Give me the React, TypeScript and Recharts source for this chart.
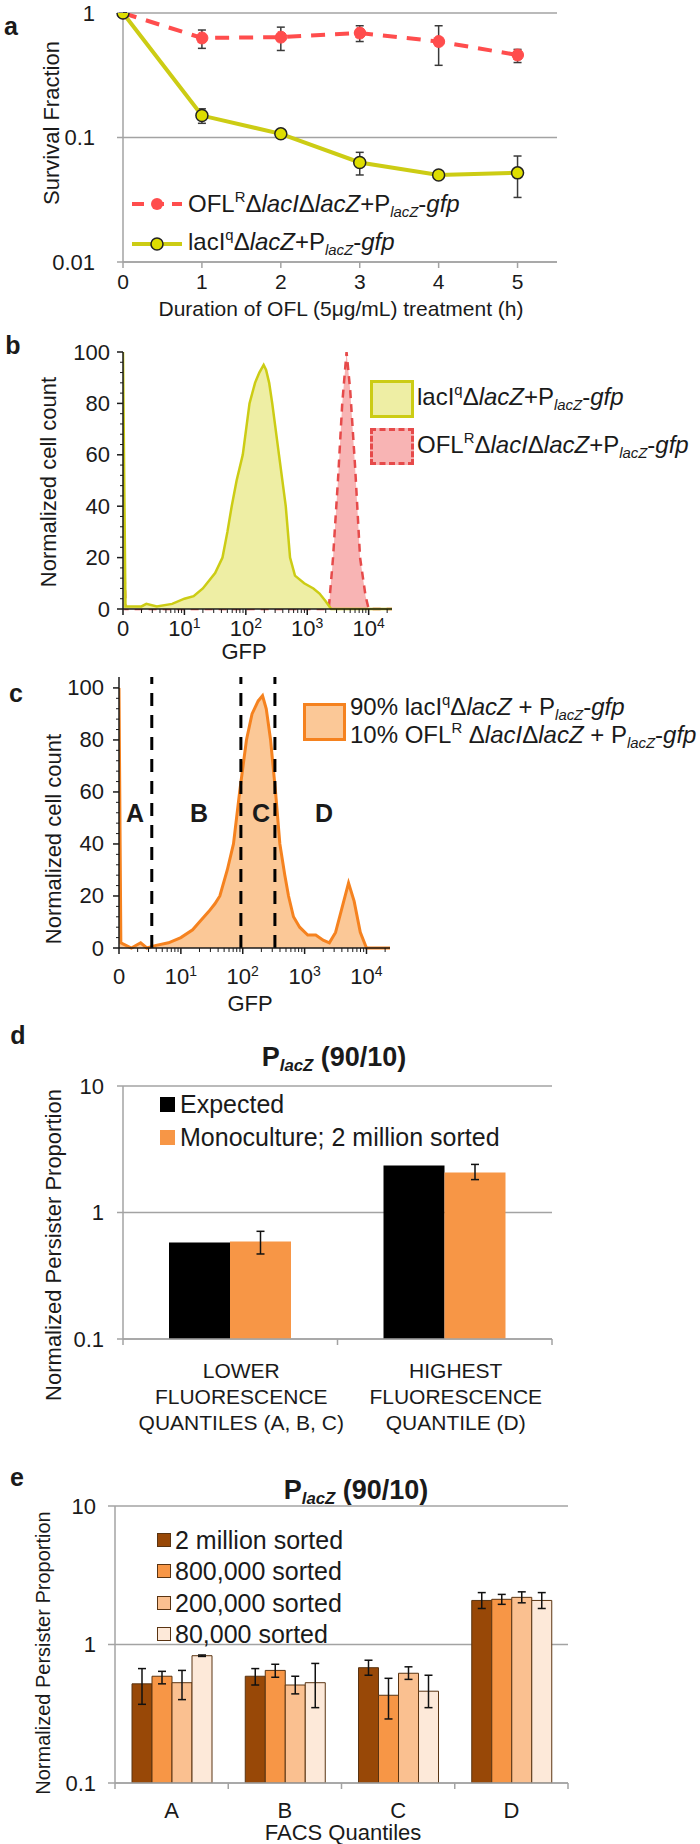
import React from 'react';
import {
  ComposedChart, BarChart, Line, Area, Bar, XAxis, YAxis, CartesianGrid, ErrorBar, ReferenceLine,
} from 'recharts';

// a: survival fraction vs hours of ofloxacin
const HOURS = [0, 1, 2, 3, 4, 5];
const OFLR_SURVIVAL = [1, 0.63, 0.64, 0.69, 0.59, 0.46];
const OFLR_LOW = [1, 0.52, 0.5, 0.59, 0.38, 0.4];
const OFLR_HIGH = [1, 0.73, 0.77, 0.79, 0.79, 0.51];
const LACIQ_SURVIVAL = [1, 0.15, 0.107, 0.063, 0.05, 0.052];
const LACIQ_LOW = [1, 0.13, 0.107, 0.05, 0.05, 0.033];
const LACIQ_HIGH = [1, 0.17, 0.107, 0.076, 0.05, 0.071];
const SURVIVAL_TICKS = [0.01, 0.1, 1];

// b, c: GFP histograms, x in decades (0, 10^1, 10^2 ...)
const GFP_TICKS = [0, 1, 2, 3, 4];
const GFP_TICK_BASE = ['0', '10', '10', '10', '10'];
const GFP_TICK_EXP = ['', '1', '2', '3', '4'];
const GFP_MINOR_MULT = [2, 3, 4, 5, 6, 7, 8, 9];
const COUNT_TICKS = [0, 20, 40, 60, 80, 100];
const COUNT_MINOR_STEP = 4;

const LACIQ_GFP_X = [0, 0.04, 0.3, 0.38, 0.55, 0.8, 1.0, 1.15, 1.3, 1.4, 1.5, 1.62, 1.7, 1.77, 1.85, 1.95, 2.06, 2.15, 2.22, 2.29, 2.33, 2.38, 2.43, 2.54, 2.65, 2.72, 2.8, 2.95, 3.1, 3.2, 3.3, 3.39, 4.38];
const LACIQ_GFP_Y = [100, 1, 1, 2, 1, 2, 4, 5, 8, 11, 14, 20, 30, 40, 50, 60, 80, 88, 92, 95, 93, 88, 80, 60, 40, 20, 13, 10, 8, 6, 3, 0, 0];
const OFLR_GFP_X = [0, 0.04, 3.35, 3.42, 3.5, 3.57, 3.64, 3.7, 3.78, 3.86, 3.95, 4.0, 4.38];
const OFLR_GFP_Y = [40, 0, 0, 20, 50, 80, 100, 85, 55, 20, 5, 0, 0];
const MIX_GFP_X = [0, 0.03, 0.2, 0.35, 0.45, 0.6, 0.8, 1.0, 1.19, 1.3, 1.45, 1.55, 1.63, 1.75, 1.85, 1.95, 2.06, 2.15, 2.25, 2.32, 2.38, 2.45, 2.53, 2.6, 2.68, 2.74, 2.82, 2.92, 3.05, 3.18, 3.3, 3.4, 3.5, 3.6, 3.71, 3.8, 3.9, 4.0, 4.38];
const MIX_GFP_Y = [100, 2, 0, 2, 0, 1, 2, 4, 7, 10, 14, 17, 20, 30, 40, 60, 80, 90, 95, 97, 92, 80, 60, 40, 28, 20, 12, 8, 5, 5, 3, 2, 6, 15, 25, 18, 6, 0, 0];
const GATES = [0.53, 1.97, 2.52];

// d: expected vs measured persister proportion
const D_CATEGORY_LINES = [
  ['LOWER', 'FLUORESCENCE', 'QUANTILES (A, B, C)'],
  ['HIGHEST', 'FLUORESCENCE', 'QUANTILE (D)'],
];
const D_EXPECTED = [0.58, 2.35];
const D_MONO = [0.59, 2.07];
const D_MONO_LOW = [0.47, 1.82];
const D_MONO_HIGH = [0.71, 2.4];
const PROPORTION_TICKS = [0.1, 1, 10];

// e: by number of sorted cells
const E_QUANTILES = ['A', 'B', 'C', 'D'];
const E_SERIES_NAMES = ['2 million sorted', '800,000 sorted', '200,000 sorted', '80,000 sorted'];
const E_2M = [0.52, 0.59, 0.68, 2.08];
const E_2M_LOW = [0.37, 0.51, 0.6, 1.82];
const E_2M_HIGH = [0.67, 0.67, 0.77, 2.37];
const E_800K = [0.59, 0.65, 0.43, 2.12];
const E_800K_LOW = [0.52, 0.58, 0.29, 1.95];
const E_800K_HIGH = [0.64, 0.72, 0.57, 2.3];
const E_200K = [0.53, 0.51, 0.62, 2.19];
const E_200K_LOW = [0.4, 0.44, 0.56, 2.0];
const E_200K_HIGH = [0.65, 0.59, 0.69, 2.4];
const E_80K = [0.83, 0.53, 0.46, 2.08];
const E_80K_LOW = [0.82, 0.35, 0.35, 1.82];
const E_80K_HIGH = [0.84, 0.73, 0.6, 2.37];

const FONT = '"Liberation Sans", Arial, Helvetica, sans-serif';
const INK = '#1a1a1a';
const GRID = '#a3a3a3';
const RED = '#ff4d4d';
const OLIVE = '#cccc14';
const E_COLORS = ['#984807', '#f79646', '#fac090', '#fde9d9'];
const tickStyle = { fill: INK, fontSize: 22 };

const err = (v: number[], lo: number[], hi: number[], i: number) => [v[i] - lo[i], hi[i] - v[i]];

const survivalRows = HOURS.map((h, i) => ({
  h,
  oflr: OFLR_SURVIVAL[i],
  oflrErr: err(OFLR_SURVIVAL, OFLR_LOW, OFLR_HIGH, i),
  laciq: LACIQ_SURVIVAL[i],
  laciqErr: err(LACIQ_SURVIVAL, LACIQ_LOW, LACIQ_HIGH, i),
}));

const toRows = (xs: number[], ys: number[]) => xs.map((x, i) => ({ x, v: ys[i] }));
const laciqGfp = toRows(LACIQ_GFP_X, LACIQ_GFP_Y);
const oflrGfp = toRows(OFLR_GFP_X, OFLR_GFP_Y);
const mixGfp = toRows(MIX_GFP_X, MIX_GFP_Y);

// axis decorations: major decades plus log minor ticks, counts every 4
const GFP_ALL_TICKS = [
  ...GFP_TICKS,
  ...GFP_TICKS.flatMap((d) => GFP_MINOR_MULT.map((m) => d + Math.log10(m))).filter((t) => t < 4.38),
];
const COUNT_ALL_TICKS = Array.from({ length: 100 / COUNT_MINOR_STEP + 1 }, (_, i) => i * COUNT_MINOR_STEP);

const dRows = D_CATEGORY_LINES.map((lines, i) => ({
  cat: lines.join(' '),
  expected: D_EXPECTED[i],
  mono: D_MONO[i],
  monoErr: err(D_MONO, D_MONO_LOW, D_MONO_HIGH, i),
}));

const E_VALUES = [E_2M, E_800K, E_200K, E_80K];
const E_LOWS = [E_2M_LOW, E_800K_LOW, E_200K_LOW, E_80K_LOW];
const E_HIGHS = [E_2M_HIGH, E_800K_HIGH, E_200K_HIGH, E_80K_HIGH];
const eRows = E_QUANTILES.map((q, i) => {
  const row: any = { q };
  E_VALUES.forEach((vals, s) => {
    row[`s${s}`] = vals[i];
    row[`s${s}Err`] = err(vals, E_LOWS[s], E_HIGHS[s], i);
  });
  return row;
});

const Sup = ({ children }: any) => (
  <span style={{ fontSize: '0.62em', verticalAlign: '0.65em', lineHeight: 0 }}>{children}</span>
);
const Sub = ({ children }: any) => (
  <span style={{ fontSize: '0.62em', verticalAlign: '-0.35em', lineHeight: 0 }}>{children}</span>
);
const OflrName = () => (
  <>OFL<Sup>R</Sup>Δ<i>lacI</i>Δ<i>lacZ</i>+P<Sub><i>lacZ</i></Sub>-<i>gfp</i></>
);
const LaciqName = () => (
  <>lacI<Sup>q</Sup>Δ<i>lacZ</i>+P<Sub><i>lacZ</i></Sub>-<i>gfp</i></>
);

const Txt = ({ x, y, size = 22, bold = false, left = false, rotate = false, children }: any) => (
  <div
    style={{
      position: 'absolute', left: x, top: y, fontSize: size, fontWeight: bold ? 700 : 400,
      whiteSpace: 'nowrap', lineHeight: 1,
      transform: `translate(${left ? '0' : '-50%'}, -50%)${rotate ? ' rotate(-90deg)' : ''}`,
    }}
  >
    {children}
  </div>
);

const Title = ({ x, y }: any) => (
  <Txt x={x} y={y} size={27} bold>
    P<Sub><i>lacZ</i></Sub> (90/10)
  </Txt>
);

const gfpTick = (labelOffset: number) => (p: any) => {
  const i = GFP_TICKS.indexOf(p.payload.value);
  return (
    <g>
      <line x1={p.x} x2={p.x} y1={p.y} y2={p.y + (i >= 0 ? 6 : 4)} stroke={INK} strokeWidth={i >= 0 ? 1.5 : 1} />
      {i >= 0 && (
        <text x={p.x} y={p.y + labelOffset} dy="0.75em" textAnchor="middle" fontSize={22} fill={INK}>
          <tspan>{GFP_TICK_BASE[i]}</tspan>
          {GFP_TICK_EXP[i] && <tspan dy={-8} fontSize={14}>{GFP_TICK_EXP[i]}</tspan>}
        </text>
      )}
    </g>
  );
};

const countTick = (labelGap: number) => (p: any) => {
  const major = COUNT_TICKS.includes(p.payload.value);
  return (
    <g>
      <line x1={p.x} x2={p.x - (major ? 6 : 3)} y1={p.y} y2={p.y} stroke={INK} strokeWidth={major ? 1.5 : 1} />
      {major && (
        <text x={p.x - labelGap} y={p.y} textAnchor="end" dominantBaseline="central" fontSize={22} fill={INK}>
          {p.payload.value}
        </text>
      )}
    </g>
  );
};

const catTick = (half: number, count: number, lines: (i: number) => string[], dx: number, y0: number, gap: number, size: number) =>
  (p: any) => (
    <g>
      <line x1={p.x - half} x2={p.x - half} y1={p.y} y2={p.y + 6} stroke={GRID} strokeWidth={1.5} />
      {p.index === count - 1 && (
        <line x1={p.x + half} x2={p.x + half} y1={p.y} y2={p.y + 6} stroke={GRID} strokeWidth={1.5} />
      )}
      {lines(p.index).map((l, k) => (
        <text key={k} x={p.x + dx} y={p.y + y0 + gap * k} textAnchor="middle" dominantBaseline="central" fontSize={size} fill={INK}>
          {l}
        </text>
      ))}
    </g>
  );

function PanelA() {
  return (
    <>
      <div style={{ position: 'absolute', left: 0, top: 0 }}>
        <ComposedChart width={700} height={320} data={survivalRows} margin={{ top: 13, right: 143, bottom: 0, left: 0 }}>
          <CartesianGrid vertical={false} stroke={GRID} strokeWidth={1.5} />
          <XAxis dataKey="h" type="number" domain={[0, 5.5]} ticks={HOURS} interval={0} height={58}
            tickSize={6} tickMargin={6} stroke={GRID} strokeWidth={1.5} tick={{ fill: INK, fontSize: 21 }} />
          <YAxis type="number" scale="log" domain={[0.01, 1]} ticks={SURVIVAL_TICKS} interval={0} allowDataOverflow
            width={123} tickSize={6} tickMargin={22} stroke={GRID} strokeWidth={1.5} tick={tickStyle} />
          <Line dataKey="oflr" stroke={RED} strokeWidth={4} strokeDasharray="14 10"
            dot={{ r: 6, fill: RED, stroke: RED, strokeWidth: 1 }} activeDot={false} isAnimationActive={false}>
            <ErrorBar dataKey="oflrErr" direction="y" width={4} stroke="#3a3a3a" strokeWidth={1.5} />
          </Line>
          <Line dataKey="laciq" stroke={OLIVE} strokeWidth={4}
            dot={{ r: 6, fill: '#dede00', stroke: '#222', strokeWidth: 1.5 }} activeDot={false} isAnimationActive={false}>
            <ErrorBar dataKey="laciqErr" direction="y" width={4} stroke="#3a3a3a" strokeWidth={1.5} />
          </Line>
        </ComposedChart>
      </div>
      <Txt x={11} y={26} size={25} bold>a</Txt>
      <Txt x={52} y={123} rotate>Survival Fraction</Txt>
      <Txt x={341} y={308} size={21}>Duration of OFL (5μg/mL) treatment (h)</Txt>
      <svg style={{ position: 'absolute', left: 132, top: 196 }} width={50} height={16}>
        <line x1={0} x2={50} y1={8} y2={8} stroke={RED} strokeWidth={4} strokeDasharray="12 8" />
        <circle cx={25} cy={8} r={6} fill={RED} />
      </svg>
      <Txt x={188} y={204} size={24} left><OflrName /></Txt>
      <svg style={{ position: 'absolute', left: 132, top: 236 }} width={50} height={16}>
        <line x1={0} x2={50} y1={8} y2={8} stroke={OLIVE} strokeWidth={4} />
        <circle cx={25} cy={8} r={6} fill="#dede00" stroke="#222" strokeWidth={1.5} />
      </svg>
      <Txt x={188} y={242} size={24} left><LaciqName /></Txt>
    </>
  );
}

function PanelB() {
  return (
    <>
      <div style={{ position: 'absolute', left: 0, top: 330 }}>
        <ComposedChart width={420} height={330} margin={{ top: 22, right: 28, bottom: 0, left: 0 }}>
          <XAxis dataKey="x" type="number" domain={[0, 4.38]} ticks={GFP_ALL_TICKS} interval={0} height={51}
            tickSize={0} tickMargin={0} tickLine={false} stroke={INK} strokeWidth={1.5} tick={gfpTick(10)} allowDataOverflow />
          <YAxis type="number" domain={[0, 100]} ticks={COUNT_ALL_TICKS} interval={0} width={123}
            tickSize={0} tickMargin={0} tickLine={false} stroke={INK} strokeWidth={1.5} tick={countTick(13)} />
          <Area data={oflrGfp} dataKey="v" type="linear" stroke="#e64a4a" strokeWidth={2.5} strokeDasharray="8 6"
            fill="#f8b4b4" fillOpacity={1} isAnimationActive={false} activeDot={false} />
          <Area data={laciqGfp} dataKey="v" type="linear" stroke={OLIVE} strokeWidth={2.5}
            fill="#eeeea4" fillOpacity={1} isAnimationActive={false} activeDot={false} />
        </ComposedChart>
      </div>
      <Txt x={13} y={345} size={25} bold>b</Txt>
      <Txt x={49} y={482} rotate>Normalized cell count</Txt>
      <Txt x={244} y={652}>GFP</Txt>
      <div style={{ position: 'absolute', left: 370, top: 380, width: 38, height: 32, background: '#eeeea4', border: `3px solid ${OLIVE}` }} />
      <Txt x={417} y={397} size={24} left><LaciqName /></Txt>
      <div style={{ position: 'absolute', left: 370, top: 428, width: 38, height: 31, background: '#f8b4b4', border: '3px dashed #e64a4a' }} />
      <Txt x={417} y={445} size={24} left><OflrName /></Txt>
    </>
  );
}

function PanelC() {
  return (
    <>
      <div style={{ position: 'absolute', left: 0, top: 660 }}>
        <ComposedChart width={420} height={340} margin={{ top: 17, right: 30, bottom: 0, left: 0 }}>
          <XAxis dataKey="x" type="number" domain={[0, 4.38]} ticks={GFP_ALL_TICKS} interval={0} height={52}
            tickSize={0} tickMargin={0} tickLine={false} stroke={INK} strokeWidth={1.5} tick={gfpTick(19)} allowDataOverflow />
          <YAxis type="number" domain={[0, 104.2]} ticks={COUNT_ALL_TICKS} interval={0} width={119}
            tickSize={0} tickMargin={0} tickLine={false} stroke={INK} strokeWidth={1.5} tick={countTick(15)} />
          <Area data={mixGfp} dataKey="v" type="linear" stroke="#f5821f" strokeWidth={3}
            fill="#fbc897" fillOpacity={1} isAnimationActive={false} activeDot={false} />
          {GATES.map((g) => (
            <ReferenceLine key={g} x={g} stroke="#000" strokeWidth={3} strokeDasharray="13 9" />
          ))}
        </ComposedChart>
      </div>
      <Txt x={16} y={693} size={25} bold>c</Txt>
      <Txt x={54} y={839} rotate>Normalized cell count</Txt>
      <Txt x={250} y={1004}>GFP</Txt>
      <Txt x={135} y={813} size={25} bold>A</Txt>
      <Txt x={199} y={813} size={25} bold>B</Txt>
      <Txt x={261} y={813} size={25} bold>C</Txt>
      <Txt x={324} y={813} size={25} bold>D</Txt>
      <div style={{ position: 'absolute', left: 303, top: 703, width: 37, height: 32, background: '#fbc897', border: '3px solid #f5821f' }} />
      <Txt x={350} y={707} size={24} left>
        90% lacI<Sup>q</Sup>Δ<i>lacZ</i> + P<Sub><i>lacZ</i></Sub>-<i>gfp</i>
      </Txt>
      <Txt x={350} y={735} size={24} left>
        10% OFL<Sup>R</Sup> Δ<i>lacI</i>Δ<i>lacZ</i> + P<Sub><i>lacZ</i></Sub>-<i>gfp</i>
      </Txt>
    </>
  );
}

function PanelD() {
  const tick = catTick(214.5 / 2, dRows.length, (i) => D_CATEGORY_LINES[i], 11, 31, 26, 21);
  return (
    <>
      <div style={{ position: 'absolute', left: 0, top: 1070 }}>
        <BarChart width={600} height={370} data={dRows} barGap={0} margin={{ top: 16, right: 48, bottom: 0, left: 0 }}>
          <CartesianGrid vertical={false} stroke={GRID} strokeWidth={1.5} />
          <XAxis dataKey="cat" interval={0} height={101} tickSize={0} tickMargin={0} tickLine={false}
            stroke={GRID} strokeWidth={1.5} tick={tick} />
          <YAxis type="number" scale="log" domain={[0.1, 10]} ticks={PROPORTION_TICKS} interval={0} allowDataOverflow
            width={123} tickSize={6} tickMargin={13} stroke={GRID} strokeWidth={1.5} tick={tickStyle} />
          <Bar dataKey="expected" fill="#000" barSize={61} isAnimationActive={false} />
          <Bar dataKey="mono" fill="#f79646" barSize={61} isAnimationActive={false}>
            <ErrorBar dataKey="monoErr" direction="y" width={4} stroke="#111" strokeWidth={1.5} />
          </Bar>
        </BarChart>
      </div>
      <Txt x={18} y={1035} size={25} bold>d</Txt>
      <Title x={334} y={1057} />
      <Txt x={54} y={1245} rotate>Normalized Persister Proportion</Txt>
      <div style={{ position: 'absolute', left: 160, top: 1097, width: 15, height: 15, background: '#000' }} />
      <Txt x={180} y={1104} size={25} left>Expected</Txt>
      <div style={{ position: 'absolute', left: 160, top: 1130, width: 15, height: 15, background: '#f79646' }} />
      <Txt x={180} y={1137} size={25} left>Monoculture; 2 million sorted</Txt>
    </>
  );
}

function PanelE() {
  const tick = catTick(453 / 8, eRows.length, (i) => [E_QUANTILES[i]], 0, 27, 0, 22);
  return (
    <>
      <div style={{ position: 'absolute', left: 0, top: 1490 }}>
        <BarChart width={620} height={354} data={eRows} barGap={0} margin={{ top: 16, right: 52, bottom: 0, left: 0 }}>
          <CartesianGrid vertical={false} stroke={GRID} strokeWidth={1.5} />
          <XAxis dataKey="q" interval={0} height={61} tickSize={0} tickMargin={0} tickLine={false}
            stroke={GRID} strokeWidth={1.5} tick={tick} />
          <YAxis type="number" scale="log" domain={[0.1, 10]} ticks={PROPORTION_TICKS} interval={0} allowDataOverflow
            width={115} tickSize={7} tickMargin={12} stroke={GRID} strokeWidth={1.5} tick={tickStyle} />
          {E_SERIES_NAMES.map((name, s) => (
            <Bar key={name} name={name} dataKey={`s${s}`} fill={E_COLORS[s]} stroke="#5a3412" strokeWidth={1}
              barSize={20} isAnimationActive={false}>
              <ErrorBar dataKey={`s${s}Err`} direction="y" width={4} stroke="#111" strokeWidth={1.5} />
            </Bar>
          ))}
        </BarChart>
      </div>
      <Txt x={17} y={1477} size={25} bold>e</Txt>
      <Title x={356} y={1490} />
      <Txt x={43} y={1653} size={20} rotate>Normalized Persister Proportion</Txt>
      <Txt x={343} y={1833}>FACS Quantiles</Txt>
      {E_SERIES_NAMES.map((name, s) => (
        <React.Fragment key={name}>
          <div style={{ position: 'absolute', left: 157, top: 1533 + s * 31.3, width: 12, height: 12, background: E_COLORS[s], border: '1px solid #5a3412' }} />
          <Txt x={175} y={1540 + s * 31.3} size={25} left>{name}</Txt>
        </React.Fragment>
      ))}
    </>
  );
}

export default function App() {
  return (
    <div style={{ position: 'absolute', left: 0, top: 0, width: 700, height: 1844, background: '#fff', fontFamily: FONT, color: INK, overflow: 'hidden' }}>
      <PanelA />
      <PanelB />
      <PanelC />
      <PanelD />
      <PanelE />
    </div>
  );
}
